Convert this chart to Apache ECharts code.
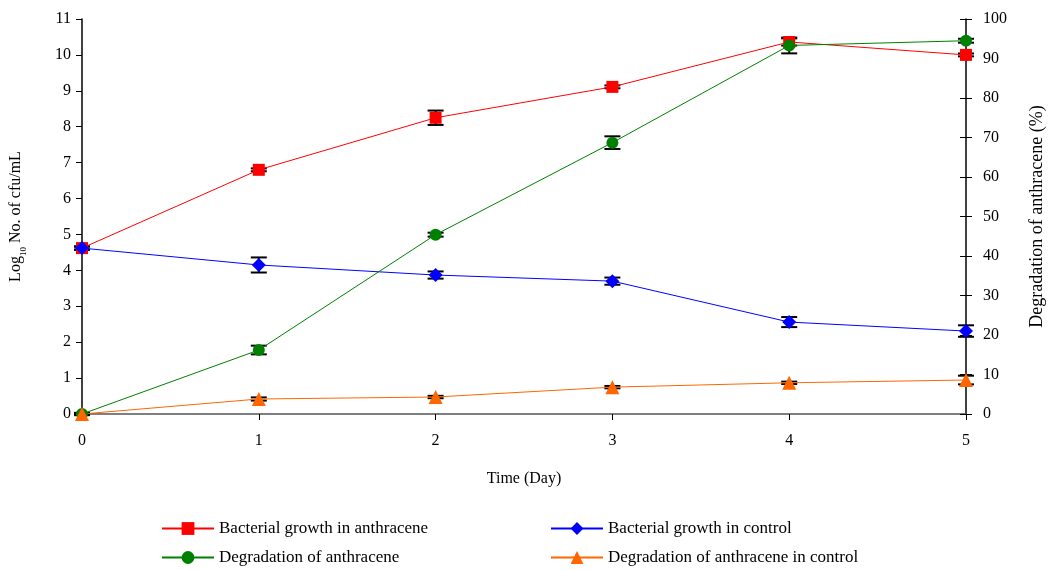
<!DOCTYPE html>
<html><head><meta charset="utf-8">
<script src="https://cdn.jsdelivr.net/npm/echarts@6/dist/echarts.min.js"></script>
<style>html,body{margin:0;padding:0;background:#fff}#c{width:1048px;height:570px}</style>
</head><body><div id="c"></div>
<script>
const days = [0, 1, 2, 3, 4, 5];
const growthAnthracene = [4.62, 6.8, 8.25, 9.11, 10.36, 10.0];
const growthAnthraceneErr = [0.05, 0.04, 0.2, 0.04, 0.1, 0.04];
const growthControl = [4.62, 4.15, 3.87, 3.7, 2.56, 2.31];
const growthControlErr = [0.04, 0.21, 0.1, 0.1, 0.14, 0.16];
const degradation = [0, 16.2, 45.4, 68.7, 93.3, 94.5];
const degradationErr = [0.3, 1.1, 0.5, 1.6, 2.0, 0.5];
const degradationControl = [0, 3.8, 4.3, 6.8, 7.9, 8.6];
const degradationControlErr = [0.2, 0.4, 0.3, 0.3, 0.3, 1.1];
const names = ['Bacterial growth in anthracene', 'Bacterial growth in control', 'Degradation of anthracene', 'Degradation of anthracene in control'];

const FONT = 'Liberation Serif';
function pts(v) { return days.map((d, i) => [d, v[i]]); }
function errData(v, e) { return days.map((d, i) => [d, v[i] - e[i], v[i] + e[i]]); }
function errSeries(v, e, yIdx) {
  return {
    type: 'custom', yAxisIndex: yIdx, z: 2, silent: true,
    renderItem: function (params, api) {
      const x = api.value(0);
      const lo = api.coord([x, api.value(1)]);
      const hi = api.coord([x, api.value(2)]);
      const w = 8;
      const st = { stroke: '#000', lineWidth: 2 };
      return { type: 'group', children: [
        { type: 'line', shape: { x1: lo[0], y1: lo[1], x2: hi[0], y2: hi[1] }, style: st },
        { type: 'line', shape: { x1: lo[0] - w, y1: lo[1], x2: lo[0] + w, y2: lo[1] }, style: st },
        { type: 'line', shape: { x1: hi[0] - w, y1: hi[1], x2: hi[0] + w, y2: hi[1] }, style: st }
      ]};
    },
    encode: { x: 0, y: [1, 2] },
    data: errData(v, e)
  };
}
function lineSeries(name, v, yIdx, color, symbol, size) {
  return {
    name: name, type: 'line', yAxisIndex: yIdx, z: 3,
    data: pts(v), symbol: symbol, symbolSize: size,
    lineStyle: { color: color, width: 1 },
    itemStyle: { color: color },
    emphasis: { disabled: true }
  };
}
const legendText = { fontFamily: FONT, fontSize: 17, color: '#000' };
const lg = { itemWidth: 52, itemHeight: 16, itemGap: 4, textStyle: legendText };
const chart = echarts.init(document.getElementById('c'));
chart.setOption({
  animation: false,
  grid: { left: 82, right: 82, top: 19, bottom: 156, containLabel: false, outerBoundsMode: 'none' },
  legend: [
    Object.assign({ data: [names[0]], left: 156, top: 515 }, lg),
    Object.assign({ data: [names[1]], left: 545, top: 515 }, lg),
    Object.assign({ data: [names[2]], left: 156, top: 544 }, lg),
    Object.assign({ data: [names[3]], left: 545, top: 544 }, lg)
  ],
  xAxis: {
    type: 'value', min: 0, max: 5, interval: 1,
    name: 'Time (Day)', nameLocation: 'middle', nameGap: 57,
    nameTextStyle: { fontFamily: FONT, fontSize: 16, color: '#000' },
    axisLine: { lineStyle: { color: '#555', width: 1.5 } },
    axisTick: { show: true, length: 6, lineStyle: { color: '#000' } },
    axisLabel: { fontFamily: FONT, fontSize: 16, color: '#000', margin: 19 },
    splitLine: { show: false }
  },
  yAxis: [
    {
      type: 'value', min: 0, max: 11, interval: 1, position: 'left',
      name: '{a|Log}{s|10}{a| No. of cfu/mL}', nameLocation: 'middle', nameGap: 58, nameRotate: 90,
      nameTextStyle: { rich: {
        a: { fontFamily: FONT, fontSize: 16, color: '#000', verticalAlign: 'bottom' },
        s: { fontFamily: FONT, fontSize: 9, color: '#000', verticalAlign: 'bottom', padding: [0, 0, -4, 0] }
      } },
      axisLine: { show: true, lineStyle: { color: '#000', width: 1.5 } },
      axisTick: { show: true, length: 6, lineStyle: { color: '#000' } },
      axisLabel: { fontFamily: FONT, fontSize: 16, color: '#000', margin: 11 },
      splitLine: { show: false }
    },
    {
      type: 'value', min: 0, max: 100, interval: 10, position: 'right',
      name: 'Degradation of anthracene (%)', nameLocation: 'middle', nameGap: 62, nameRotate: 90,
      nameTextStyle: { fontFamily: FONT, fontSize: 18, color: '#000' },
      axisLine: { show: true, lineStyle: { color: '#000', width: 1.5 } },
      axisTick: { show: true, length: 6, lineStyle: { color: '#000' } },
      axisLabel: { fontFamily: FONT, fontSize: 16, color: '#000', margin: 17 },
      splitLine: { show: false }
    },
    {
      type: 'value', min: 0, max: 100, interval: 10, position: 'right',
      axisLine: { show: false },
      axisTick: { show: true, inside: true, length: 6, lineStyle: { color: '#000' } },
      axisLabel: { show: false },
      splitLine: { show: false }
    }
  ],
  series: [
    errSeries(growthAnthracene, growthAnthraceneErr, 0),
    errSeries(growthControl, growthControlErr, 0),
    errSeries(degradation, degradationErr, 1),
    errSeries(degradationControl, degradationControlErr, 1),
    lineSeries(names[0], growthAnthracene, 0, '#ff0000', 'rect', 12),
    lineSeries(names[1], growthControl, 0, '#0000ff', 'diamond', 14),
    lineSeries(names[2], degradation, 1, '#008000', 'circle', 12),
    lineSeries(names[3], degradationControl, 1, '#ff6600', 'triangle', 14)
  ]
});
</script></body></html>
